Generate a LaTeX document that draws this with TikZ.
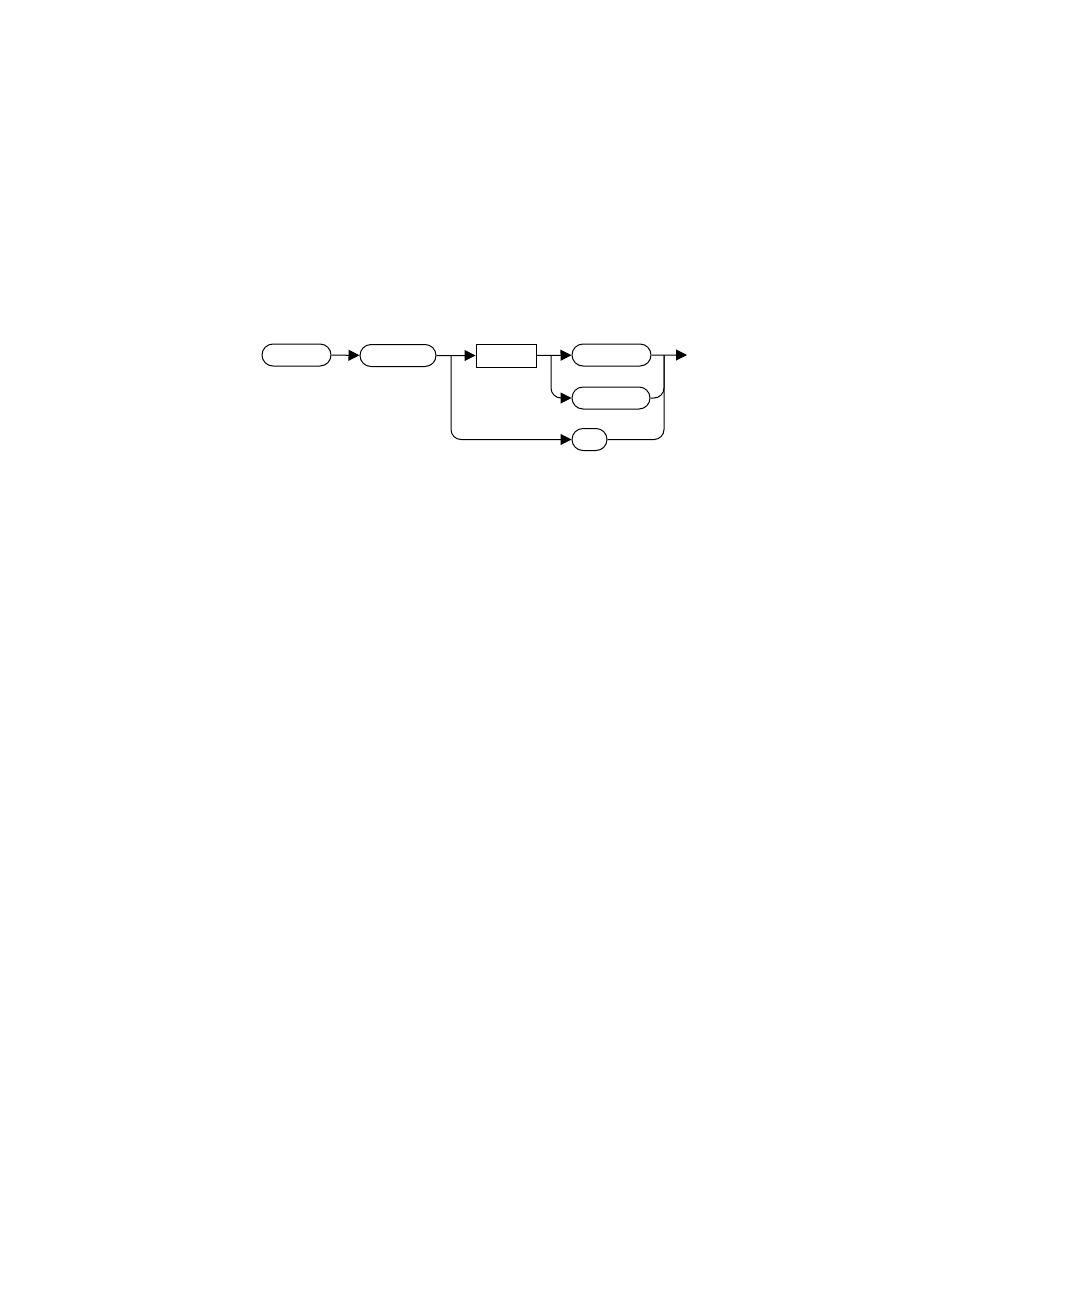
\documentclass[tikz,border=0pt]{standalone}
\usetikzlibrary{arrows.meta,shapes.misc,positioning}

\begin{document}
\begin{tikzpicture}[x=0.5pt,y=-0.5pt,line width=0.5pt,
  term/.style={draw,rounded rectangle,inner sep=0pt,minimum height=11pt},
  nonterm/.style={draw,rectangle,inner sep=0pt,minimum height=11.5pt},
  arr/.style={-{Triangle[length=5.5pt,width=5.5pt]}},
  curve/.style={rounded corners=5pt}]
\useasboundingbox (0,0) rectangle (1080,1296);
\node[term,minimum width=34.5pt] (start) at (296.5,355) {};
\node[term,minimum width=38pt] (first) at (398,355.5) {};
\node[nonterm,minimum width=30pt] (mid) at (506,355.5) {};
\node[term,minimum width=39.5pt] (upper) at (611.5,355) {};
\node[term,minimum width=39pt] (lower) at (611,398) {};
\node[term,minimum width=17.5pt] (short) at (589.5,439.5) {};
\coordinate (split1) at (451,355.5);
\coordinate (split2) at (551,355.5);
\coordinate (join) at (664,355);
\coordinate (out) at (687,355);
\draw[arr] (start) -- (first);
\draw[arr] (first) -- (mid);
\draw[arr] (mid) -- (upper);
\draw[arr] (upper) -- (out);
\draw[arr,curve] (split1) |- (short);
\draw[arr,curve] (split2) |- (lower);
\draw[curve] (lower) -| (join);
\draw[curve] (short) -| (join);
\end{tikzpicture}
\end{document}
